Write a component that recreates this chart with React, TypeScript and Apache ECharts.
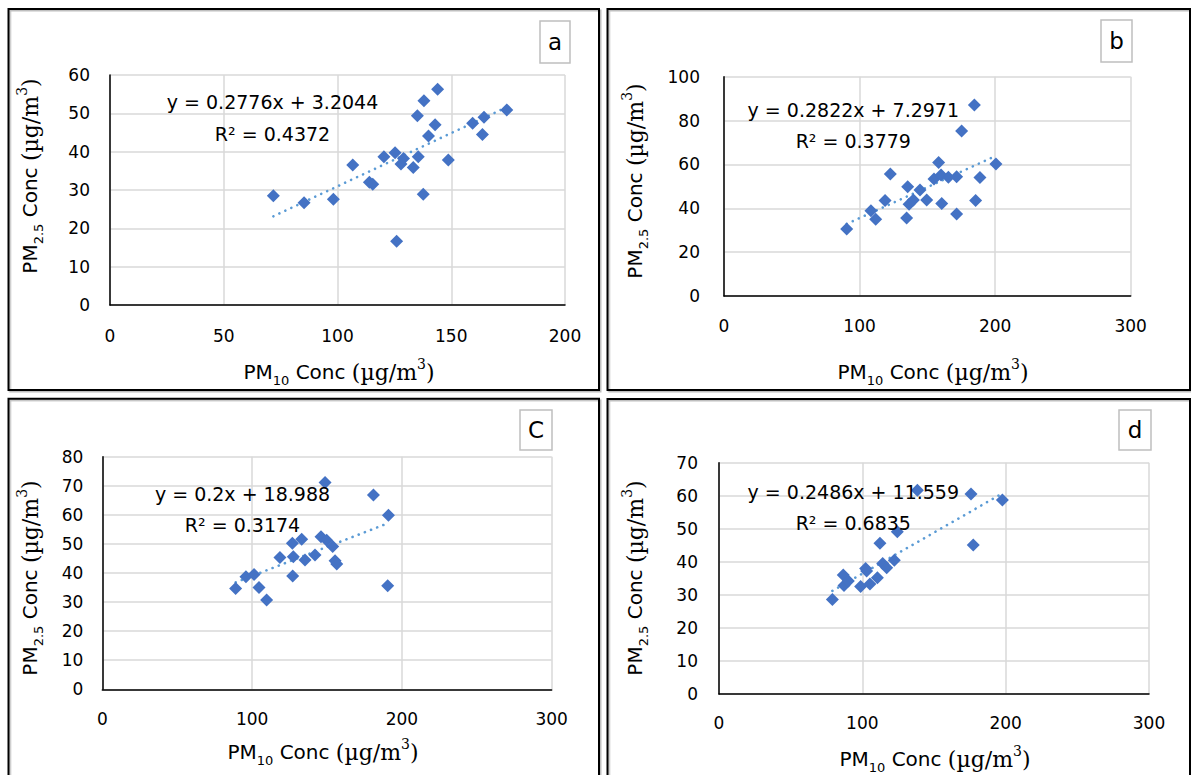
import React, { useEffect, useRef } from "react";
import * as echarts from "echarts";

// ---- Data ----
const pm10A = [71.8, 85.3, 98.2, 106.7, 114.0, 115.5, 120.4, 125.3, 127.9, 133.3, 135.5, 135.1, 138.0, 144.0, 142.9, 140.0, 137.7, 126.0, 148.7, 159.4, 164.4, 163.7, 174.4, 129.0];
const pm25A = [28.5, 26.7, 27.6, 36.5, 32.0, 31.5, 38.7, 39.7, 36.8, 35.9, 38.7, 49.4, 53.3, 56.3, 47.0, 44.1, 28.9, 16.6, 37.8, 47.4, 49.0, 44.5, 50.9, 38.2];

const pm10B = [90.5, 108.4, 111.9, 118.8, 122.7, 134.7, 135.5, 136.5, 139.7, 144.6, 149.5, 154.9, 158.3, 160.1, 160.6, 165.5, 171.6, 171.6, 175.3, 184.7, 185.6, 188.8, 200.6];
const pm25B = [30.5, 38.9, 35.0, 43.6, 55.6, 35.6, 49.8, 41.8, 43.8, 48.3, 43.8, 53.3, 60.9, 55.2, 42.2, 54.1, 54.4, 37.4, 75.2, 87.1, 43.5, 54.0, 60.2];

const pm10C = [89.0, 95.9, 101.3, 104.6, 109.7, 118.6, 126.9, 127.5, 127.1, 133.1, 135.3, 142.0, 146.0, 148.7, 149.8, 153.8, 155.4, 156.5, 181.0, 191.0, 190.5];
const pm25C = [34.7, 38.7, 39.5, 35.0, 30.7, 45.3, 50.2, 45.6, 39.0, 51.6, 44.5, 46.2, 52.5, 71.1, 51.3, 49.1, 44.2, 43.1, 66.8, 59.9, 35.6];

const pm10D = [79.1, 86.7, 87.2, 90.2, 98.8, 102.3, 103.0, 105.3, 110.5, 112.3, 114.2, 117.0, 122.3, 124.4, 138.4, 175.8, 177.4, 197.7];
const pm25D = [28.6, 36.0, 32.8, 34.2, 32.5, 38.0, 37.2, 33.3, 35.2, 45.6, 39.5, 38.2, 40.5, 49.1, 61.7, 60.5, 45.1, 58.7];

const slopes = [0.2776, 0.2822, 0.2, 0.2486];
const intercepts = [3.2044, 7.2971, 18.988, 11.559];
const equationLabels = ["y = 0.2776x + 3.2044", "y = 0.2822x + 7.2971", "y = 0.2x + 18.988", "y = 0.2486x + 11.559"];
const r2Labels = ["R² = 0.4372", "R² = 0.3779", "R² = 0.3174", "R² = 0.6835"];
const panelLetters = ["a", "b", "C", "d"];
const xMaxes = [200, 300, 300, 300];
const xIntervals = [50, 100, 100, 100];
const yMaxes = [60, 100, 80, 70];
const yIntervals = [10, 20, 10, 10];

const xs = [pm10A, pm10B, pm10C, pm10D];
const ys = [pm25A, pm25B, pm25C, pm25D];

// ---- Layout ----
const SANS = '"DejaVu Sans", sans-serif';
const SERIF = '"DejaVu Serif", serif';

const grids = [
  { left: 110, top: 75, width: 455, height: 230 },
  { left: 724, top: 76.7, width: 406.7, height: 219.3 },
  { left: 102.3, top: 456.7, width: 449.4, height: 232.6 },
  { left: 719, top: 462.7, width: 430, height: 231.3 },
];
const frames = [
  { x: 8.5, y: 9, w: 590.5, h: 381 },
  { x: 607.5, y: 9, w: 582.5, h: 381 },
  { x: 8.5, y: 398.7, w: 590.5, h: 400 },
  { x: 607.5, y: 399, w: 582.5, h: 400 },
];
const letterBoxes = [
  { x: 540, y: 21, w: 30, h: 42 },
  { x: 1101, y: 20, w: 31, h: 42 },
  { x: 520, y: 410, w: 32, h: 40 },
  { x: 1119, y: 410, w: 32, h: 40 },
];
const eqPos = [
  { x: 272.5, y1: 101.7, y2: 134 },
  { x: 853.3, y1: 110, y2: 141 },
  { x: 242.5, y1: 494.3, y2: 525 },
  { x: 853.3, y1: 491.7, y2: 523 },
];
const xTitlePos = [
  { x: 339, y: 372 },
  { x: 933, y: 372 },
  { x: 323, y: 752 },
  { x: 935, y: 759 },
];
const yTitlePos = [
  { x: 30, y: 176 },
  { x: 635, y: 181 },
  { x: 30, y: 578 },
  { x: 635, y: 578 },
];
const xLabelMargin = [22, 21, 21, 20];
const yLabelMargin = [20, 24, 19, 21];

const titleRich = {
  a: { fontFamily: SANS, fontSize: 20, lineHeight: 30, fill: "#000" },
  s: { fontFamily: SANS, fontSize: 13, lineHeight: 14, verticalAlign: "bottom", fill: "#000" },
  b: { fontFamily: SERIF, fontSize: 22, lineHeight: 30, fill: "#000" },
  p: { fontFamily: SERIF, fontSize: 14, lineHeight: 20, verticalAlign: "top", fill: "#000" },
};
const titleText = (sub: string) => `{a|PM}{s|${sub}}{a| Conc }{b|(µg/m}{p|3}{b|)}`;

export default function App() {
  const ref = useRef<HTMLDivElement>(null);
  useEffect(() => {
    document.body.style.margin = "0";
    document.body.style.overflow = "hidden";
    if (!ref.current) return;
    const chart = echarts.init(ref.current, undefined, { renderer: "svg" });

    const xAxis: any[] = [];
    const yAxis: any[] = [];
    const series: any[] = [];
    const graphic: any[] = [];

    for (let i = 0; i < 4; i++) {
      xAxis.push({
        type: "value",
        gridIndex: i,
        min: 0,
        max: xMaxes[i],
        interval: xIntervals[i],
        axisLine: { show: true, onZero: false, lineStyle: { color: "#000", width: 1.5 } },
        axisTick: { show: false },
        axisLabel: { margin: xLabelMargin[i], fontFamily: SANS, fontSize: 17, color: "#000" },
        splitLine: { show: true, lineStyle: { color: "#d9d9d9", width: 1.5 } },
      });
      yAxis.push({
        type: "value",
        gridIndex: i,
        min: 0,
        max: yMaxes[i],
        interval: yIntervals[i],
        axisLine: { show: true, onZero: false, lineStyle: { color: "#000", width: 1.5 } },
        axisTick: { show: false },
        axisLabel: { margin: yLabelMargin[i], fontFamily: SANS, fontSize: 17, color: "#000" },
        splitLine: { show: true, lineStyle: { color: "#d9d9d9", width: 1.5 } },
      });
      const pts = xs[i].map((x, k) => [x, ys[i][k]]);
      const xmin = Math.min(...xs[i]);
      const xmax = Math.max(...xs[i]);
      series.push({
        type: "line",
        xAxisIndex: i,
        yAxisIndex: i,
        data: [
          [xmin, slopes[i] * xmin + intercepts[i]],
          [xmax, slopes[i] * xmax + intercepts[i]],
        ],
        showSymbol: false,
        symbol: "none",
        lineStyle: { color: "#5B9BD5", width: 2.6, type: [0.1, 6.5], cap: "round" },
        z: 2,
        silent: true,
      });
      series.push({
        type: "scatter",
        xAxisIndex: i,
        yAxisIndex: i,
        data: pts,
        symbol: "diamond",
        symbolSize: [13, 13],
        itemStyle: { color: "#4472C4", opacity: 1 },
        z: 3,
      });

      const f = frames[i];
      graphic.push({
        type: "rect",
        shape: { x: f.x, y: f.y, width: f.w, height: f.h },
        style: { fill: "none", stroke: "#000", lineWidth: 2, shadowColor: "rgba(0,0,0,0.25)", shadowOffsetX: 1.5, shadowOffsetY: 1.5, shadowBlur: 1 },
        z: 1,
      });
      const lb = letterBoxes[i];
      graphic.push({
        type: "rect",
        shape: { x: lb.x, y: lb.y, width: lb.w, height: lb.h },
        style: { fill: "#fff", stroke: "#bfbfbf", lineWidth: 1.5 },
        z: 1,
      });
      graphic.push({
        type: "text",
        x: lb.x + lb.w / 2,
        y: lb.y + lb.h / 2,
        style: { text: panelLetters[i], fontFamily: SANS, fontSize: 23, fill: "#000", align: "center", verticalAlign: "middle" },
        z: 2,
      });
      const e = eqPos[i];
      graphic.push({
        type: "text",
        x: e.x,
        y: e.y1,
        style: { text: equationLabels[i], fontFamily: SANS, fontSize: 19, fill: "#000", align: "center", verticalAlign: "middle" },
        z: 10,
      });
      graphic.push({
        type: "text",
        x: e.x,
        y: e.y2,
        style: { text: r2Labels[i], fontFamily: SANS, fontSize: 19, fill: "#000", align: "center", verticalAlign: "middle" },
        z: 10,
      });
      const xt = xTitlePos[i];
      graphic.push({
        type: "text",
        x: xt.x,
        y: xt.y,
        style: { text: titleText("10"), rich: titleRich, align: "center", verticalAlign: "middle", fill: "#000" },
        z: 10,
      });
      const yt = yTitlePos[i];
      graphic.push({
        type: "text",
        x: yt.x,
        y: yt.y,
        rotation: Math.PI / 2,
        style: { text: titleText("2.5"), rich: titleRich, align: "center", verticalAlign: "middle", fill: "#000" },
        z: 10,
      });
    }

    chart.setOption({
      animation: false,
      backgroundColor: "#fff",
      grid: grids.map((g) => ({ ...g, containLabel: false })),
      xAxis,
      yAxis,
      series,
      graphic,
    });
    return () => chart.dispose();
  }, []);
  return <div ref={ref} style={{ width: 1191, height: 775 }} />;
}
